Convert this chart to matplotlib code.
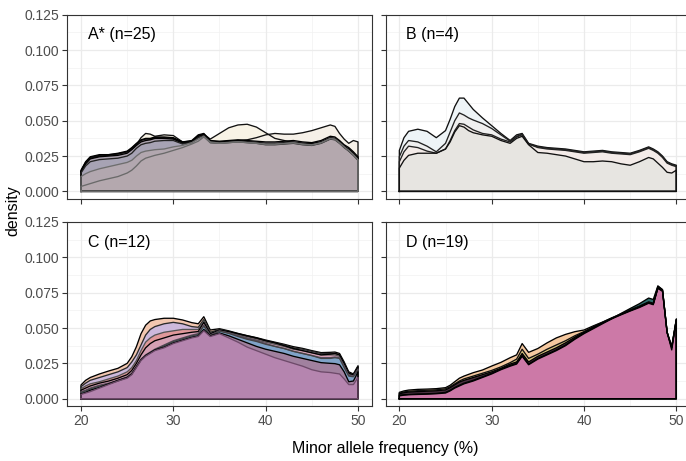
import numpy as np
import matplotlib
matplotlib.use("Agg")
import matplotlib.pyplot as plt

plt.rcParams['font.family'] = ['Liberation Sans', 'DejaVu Sans']

# ---------------- data (density) ----------------
X = [20, 20.5, 21, 22, 23, 24, 25, 25.5, 26, 26.5, 27, 27.5, 28, 29, 30, 31, 32, 32.7,
     33.3, 34, 35, 36, 37, 38, 39, 40, 41, 42, 43, 44, 45, 46, 47, 47.5, 48, 48.5, 49, 49.5, 50]

# Panel A
a_out1 = [0.014, 0.020, 0.0235, 0.025, 0.0255, 0.0265, 0.028, 0.030, 0.033, 0.038, 0.041, 0.0405, 0.039, 0.040, 0.0395, 0.035, 0.0355, 0.039,
          0.0405, 0.037, 0.041, 0.045, 0.047, 0.0475, 0.0455, 0.0415, 0.0375, 0.036, 0.0345, 0.034, 0.034, 0.035, 0.0375, 0.037, 0.035, 0.032, 0.029, 0.026, 0.023]
a_out2 = [0.0145, 0.0205, 0.024, 0.0255, 0.026, 0.0265, 0.028, 0.0305, 0.0335, 0.036, 0.037, 0.037, 0.038, 0.038, 0.0375, 0.0345, 0.0355, 0.0395,
          0.0405, 0.0355, 0.035, 0.0355, 0.036, 0.0365, 0.038, 0.040, 0.041, 0.0405, 0.0405, 0.0415, 0.043, 0.045, 0.047, 0.046, 0.041, 0.037, 0.034, 0.036, 0.035]
a_main1 = [0.015, 0.021, 0.0245, 0.026, 0.026, 0.027, 0.0285, 0.031, 0.034, 0.0365, 0.0375, 0.0375, 0.0385, 0.0385, 0.038, 0.035, 0.036, 0.040,
           0.041, 0.036, 0.0355, 0.036, 0.0365, 0.036, 0.0355, 0.035, 0.035, 0.0355, 0.036, 0.035, 0.0345, 0.036, 0.039, 0.0385, 0.036, 0.033, 0.031, 0.028, 0.0245]
a_main2 = [0.014, 0.0195, 0.023, 0.0245, 0.025, 0.0255, 0.027, 0.0295, 0.0325, 0.035, 0.036, 0.0365, 0.0375, 0.0375, 0.037, 0.034, 0.035, 0.039,
           0.040, 0.035, 0.0348, 0.0352, 0.0357, 0.0352, 0.0347, 0.034, 0.034, 0.0345, 0.035, 0.034, 0.0335, 0.035, 0.038, 0.0375, 0.035, 0.032, 0.030, 0.027, 0.0235]
a_main3 = [0.013, 0.018, 0.021, 0.0225, 0.023, 0.0235, 0.025, 0.027, 0.0305, 0.033, 0.034, 0.0345, 0.0355, 0.036, 0.036, 0.0335, 0.0345, 0.038,
           0.0395, 0.0345, 0.034, 0.0345, 0.035, 0.0345, 0.034, 0.033, 0.033, 0.0335, 0.034, 0.033, 0.0325, 0.034, 0.037, 0.0365, 0.034, 0.031, 0.0285, 0.0255, 0.022]
a_low2 = [0.0105, 0.0125, 0.014, 0.016, 0.0175, 0.019, 0.0205, 0.022, 0.025, 0.0275, 0.0285, 0.029, 0.0295, 0.030, 0.0315, 0.0325, 0.0345, 0.037,
          0.039, 0.035, 0.0342, 0.0347, 0.0352, 0.0347, 0.0342, 0.0335, 0.0335, 0.034, 0.0345, 0.0335, 0.033, 0.0345, 0.0375, 0.037, 0.0345, 0.0315, 0.029, 0.026, 0.0225]
a_low1 = [0.0035, 0.0045, 0.0055, 0.0075, 0.009, 0.0105, 0.013, 0.015, 0.018, 0.0215, 0.0235, 0.0245, 0.0255, 0.027, 0.029, 0.031, 0.0335, 0.0355,
          0.0385, 0.0345, 0.034, 0.0345, 0.035, 0.0345, 0.034, 0.0333, 0.0333, 0.0338, 0.0343, 0.0333, 0.0328, 0.0343, 0.0373, 0.0368, 0.0343, 0.0313, 0.0288, 0.0258, 0.0222]

# Panel B
b1 = [0.029, 0.038, 0.0425, 0.044, 0.0425, 0.038, 0.043, 0.051, 0.060, 0.066, 0.066, 0.062, 0.058, 0.052, 0.0465, 0.041, 0.036, 0.040,
      0.041, 0.034, 0.032, 0.031, 0.0305, 0.030, 0.029, 0.028, 0.0285, 0.029, 0.028, 0.0275, 0.027, 0.029, 0.0315, 0.030, 0.028, 0.025, 0.021, 0.0195, 0.0185]
b2 = [0.0245, 0.032, 0.036, 0.035, 0.032, 0.028, 0.034, 0.042, 0.050, 0.0555, 0.054, 0.052, 0.0505, 0.048, 0.0445, 0.040, 0.0355, 0.039,
      0.0405, 0.0335, 0.0315, 0.0305, 0.030, 0.0295, 0.0285, 0.0275, 0.028, 0.0285, 0.0275, 0.027, 0.0265, 0.0285, 0.031, 0.0295, 0.0275, 0.0245, 0.0205, 0.019, 0.018]
b3 = [0.021, 0.028, 0.032, 0.031, 0.0285, 0.027, 0.030, 0.036, 0.043, 0.048, 0.0475, 0.0455, 0.0435, 0.041, 0.040, 0.037, 0.035, 0.0385,
      0.040, 0.0335, 0.031, 0.030, 0.0295, 0.029, 0.028, 0.027, 0.0275, 0.028, 0.027, 0.0265, 0.026, 0.028, 0.0305, 0.029, 0.027, 0.024, 0.020, 0.0185, 0.0175]
b4 = [0.0165, 0.022, 0.0255, 0.027, 0.027, 0.027, 0.030, 0.035, 0.042, 0.0465, 0.0455, 0.043, 0.0415, 0.040, 0.039, 0.036, 0.034, 0.0375,
      0.039, 0.033, 0.0275, 0.027, 0.026, 0.025, 0.023, 0.021, 0.021, 0.0215, 0.021, 0.0195, 0.0185, 0.021, 0.024, 0.023, 0.020, 0.017, 0.0135, 0.013, 0.015]

# Panel C
c1 = [0.0097, 0.013, 0.015, 0.0175, 0.0196, 0.0215, 0.025, 0.0297, 0.0368, 0.046, 0.052, 0.055, 0.056, 0.0569, 0.0569, 0.0557, 0.0538, 0.053,
      0.058, 0.0486, 0.0495, 0.048, 0.0462, 0.0446, 0.0432, 0.0415, 0.040, 0.0385, 0.0368, 0.0356, 0.034, 0.0326, 0.0328, 0.033, 0.032, 0.026, 0.019, 0.0175, 0.0233]
c2 = [0.0085, 0.011, 0.013, 0.015, 0.017, 0.019, 0.022, 0.026, 0.031, 0.038, 0.045, 0.049, 0.051, 0.053, 0.054, 0.053, 0.051, 0.0505,
      0.056, 0.047, 0.049, 0.0475, 0.0455, 0.044, 0.0425, 0.041, 0.0395, 0.038, 0.036, 0.035, 0.0335, 0.032, 0.032, 0.0322, 0.031, 0.025, 0.018, 0.017, 0.0228]
c3 = [0.007, 0.009, 0.0105, 0.012, 0.014, 0.016, 0.019, 0.022, 0.027, 0.034, 0.040, 0.043, 0.045, 0.047, 0.048, 0.049, 0.049, 0.049,
      0.055, 0.046, 0.048, 0.047, 0.045, 0.043, 0.0415, 0.040, 0.0385, 0.037, 0.035, 0.034, 0.0325, 0.031, 0.031, 0.031, 0.030, 0.024, 0.0175, 0.0165, 0.022]
c4 = [0.006, 0.0075, 0.009, 0.011, 0.0125, 0.0145, 0.017, 0.020, 0.025, 0.031, 0.036, 0.039, 0.041, 0.043, 0.045, 0.046, 0.047, 0.0475,
      0.054, 0.046, 0.0485, 0.0475, 0.046, 0.0445, 0.043, 0.041, 0.0395, 0.0375, 0.0355, 0.034, 0.0325, 0.031, 0.0315, 0.032, 0.031, 0.025, 0.018, 0.017, 0.0225]
c5 = [0.005, 0.006, 0.0075, 0.0095, 0.011, 0.013, 0.0155, 0.018, 0.023, 0.028, 0.031, 0.033, 0.035, 0.038, 0.041, 0.043, 0.045, 0.046,
      0.052, 0.045, 0.048, 0.0465, 0.0445, 0.0425, 0.041, 0.039, 0.037, 0.0355, 0.0335, 0.032, 0.0305, 0.029, 0.029, 0.0295, 0.029, 0.023, 0.0165, 0.016, 0.021]
c6 = [0.0045, 0.0055, 0.007, 0.009, 0.0105, 0.0125, 0.015, 0.0175, 0.0225, 0.0275, 0.0305, 0.0325, 0.0345, 0.0375, 0.0405, 0.0425, 0.0445, 0.0455,
      0.0515, 0.0445, 0.0478, 0.0462, 0.044, 0.042, 0.0405, 0.0385, 0.037, 0.0355, 0.0335, 0.032, 0.0305, 0.0285, 0.0285, 0.029, 0.0285, 0.022, 0.016, 0.0155, 0.0205]
c7 = [0.0035, 0.0045, 0.006, 0.008, 0.0105, 0.013, 0.015, 0.0175, 0.0225, 0.0275, 0.0305, 0.0325, 0.0345, 0.0365, 0.0395, 0.0415, 0.0435, 0.0445,
      0.049, 0.0445, 0.0465, 0.0445, 0.042, 0.0395, 0.037, 0.035, 0.0335, 0.032, 0.030, 0.0285, 0.027, 0.0255, 0.025, 0.0248, 0.024, 0.019, 0.012, 0.0125, 0.019]
c8 = [0.003, 0.004, 0.005, 0.0075, 0.010, 0.0125, 0.0145, 0.017, 0.022, 0.027, 0.030, 0.032, 0.034, 0.036, 0.039, 0.041, 0.043, 0.044,
      0.048, 0.044, 0.046, 0.043, 0.040, 0.0365, 0.034, 0.0315, 0.029, 0.027, 0.025, 0.023, 0.0205, 0.019, 0.0185, 0.018, 0.0175, 0.014, 0.010, 0.010, 0.015]

# Panel D
d1 = [0.0045, 0.0055, 0.0061, 0.0066, 0.0068, 0.0071, 0.0078, 0.0095, 0.012, 0.0145, 0.016, 0.0172, 0.0184, 0.0203, 0.0231, 0.0257, 0.029, 0.031,
      0.039, 0.0328, 0.0355, 0.0395, 0.043, 0.0455, 0.0474, 0.0486, 0.0515, 0.0542, 0.0572, 0.060, 0.0628, 0.0655, 0.0685, 0.0675, 0.0795, 0.077, 0.047, 0.0365, 0.0565]
d2 = [0.002, 0.0025, 0.0028, 0.003, 0.0032, 0.0035, 0.004, 0.0055, 0.0075, 0.009, 0.0105, 0.0115, 0.0125, 0.015, 0.0175, 0.0205, 0.023, 0.0245,
      0.030, 0.024, 0.028, 0.031, 0.034, 0.0375, 0.042, 0.046, 0.0495, 0.053, 0.0565, 0.0603, 0.0638, 0.0672, 0.0712, 0.0702, 0.0798, 0.0772, 0.0472, 0.0345, 0.056]
d3 = [0.004, 0.0048, 0.0053, 0.0057, 0.006, 0.0063, 0.007, 0.0085, 0.0105, 0.0125, 0.014, 0.015, 0.016, 0.018, 0.020, 0.0225, 0.0255, 0.028,
      0.035, 0.0285, 0.0315, 0.035, 0.038, 0.041, 0.0445, 0.0475, 0.051, 0.054, 0.057, 0.0598, 0.0625, 0.065, 0.068, 0.067, 0.0785, 0.0765, 0.047, 0.037, 0.056]
d4 = [0.0035, 0.0042, 0.0047, 0.005, 0.0053, 0.0056, 0.0062, 0.0078, 0.0098, 0.0118, 0.013, 0.014, 0.015, 0.017, 0.019, 0.0215, 0.0245, 0.026,
      0.032, 0.026, 0.030, 0.033, 0.036, 0.0395, 0.0435, 0.047, 0.0505, 0.0538, 0.0568, 0.0596, 0.0623, 0.065, 0.068, 0.067, 0.0785, 0.0765, 0.047, 0.0365, 0.056]
d5 = [0.0025, 0.0028, 0.003, 0.0033, 0.0035, 0.0038, 0.0045, 0.006, 0.008, 0.0095, 0.011, 0.012, 0.013, 0.0155, 0.018, 0.021, 0.0235, 0.025,
      0.0305, 0.0245, 0.0285, 0.0315, 0.0345, 0.038, 0.0425, 0.0465, 0.050, 0.0535, 0.0565, 0.0593, 0.062, 0.0645, 0.0675, 0.0665, 0.078, 0.076, 0.0465, 0.036, 0.0555]

panel_labels = ["A* (n=25)", "B (n=4)", "C (n=12)", "D (n=19)"]
x_ticks = [20, 30, 40, 50]
y_ticks = [0.000, 0.025, 0.050, 0.075, 0.100, 0.125]
x_title = "Minor allele frequency (%)"
y_title = "density"

# curves per panel: (values, fill colour, line colour), drawn in this order
panel_curves = [
    [(a_out1, '#F8F3E6', '#111111'), (a_out2, '#F5F0E8', '#111111'),
     (a_main1, '#B1A7B0', '#000000'), (a_main2, '#ADA4B0', '#000000'),
     (a_main3, '#A7A3B4', '#222222'), (a_low2, '#B2A7AF', '#6E6E6E'),
     (a_low1, '#B4A8AE', '#6A6A6A')],
    [(b1, '#EEF4F7', '#111111'), (b2, '#EFEFEF', '#222222'),
     (b3, '#F3EBE8', '#222222'), (b4, '#E7E5E1', '#111111')],
    [(c1, '#F2C7B0', '#000000'), (c2, '#CDB9DC', '#2a2a2a'),
     (c3, '#E0989A', '#555555'), (c4, '#D5A0B4', '#000000'),
     (c5, '#9D8BA8', '#5a4a60'), (c6, '#7FA3C8', '#444444'),
     (c7, '#A1819F', '#000000'), (c8, '#B585AF', '#6E4A6A')],
    [(d1, '#F5C9A0', '#000000'), (d2, '#2E6E6B', '#000000'),
     (d3, '#D9C47F', '#111111'), (d4, '#4A3040', '#000000'),
     (d5, '#CC79A7', '#000000')],
]

# ---------------- figure ----------------
W, H = 686, 461
fig = plt.figure(figsize=(W / 100, H / 100), dpi=100)

pw = 304.7 / W
ph = 184.4 / H
lefts = [67.15 / W, 385.5 / W]
bottoms = [1 - 199.1 / H, 1 - 406.4 / H]
pos = [(lefts[0], bottoms[0]), (lefts[1], bottoms[0]), (lefts[0], bottoms[1]), (lefts[1], bottoms[1])]

for i, (l, b) in enumerate(pos):
    ax = fig.add_axes([l, b, pw, ph])
    ax.set_xlim(18.5, 51.5)
    ax.set_ylim(-0.00545, 0.125)
    # grid
    for xv in [25, 35, 45]:
        ax.axvline(xv, color='#F2F2F2', lw=0.5, zorder=0)
    for yv in [0.0125, 0.0375, 0.0625, 0.0875, 0.1125]:
        ax.axhline(yv, color='#F2F2F2', lw=0.5, zorder=0)
    for xv in x_ticks:
        ax.axvline(xv, color='#EBEBEB', lw=0.9, zorder=0)
    for yv in y_ticks:
        ax.axhline(yv, color='#EBEBEB', lw=0.9, zorder=0)

    xs = np.array([X[0]] + X + [X[-1], X[0]])
    for vals, fc, lc in panel_curves[i]:
        ys = np.array([0.0] + list(vals) + [0.0, 0.0])
        ax.fill(xs, ys, facecolor=fc, edgecolor='none', zorder=2)
    for vals, fc, lc in panel_curves[i]:
        ys = np.array([0.0] + list(vals) + [0.0, 0.0])
        ax.plot(xs, ys, color=lc, lw=0.95, zorder=3, solid_joinstyle='round')

    ax.text(20.75, 0.1108, panel_labels[i], fontsize=11.5, ha='left', va='center', color='black', zorder=5)

    ax.set_xticks(x_ticks)
    ax.set_yticks(y_ticks)
    ax.tick_params(axis='both', length=3.6, width=0.8, color='#333333', labelcolor='#4D4D4D', labelsize=10, pad=2)
    if i in (2, 3):
        ax.set_xticklabels([str(v) for v in x_ticks])
    else:
        ax.set_xticklabels([])
    if i in (0, 2):
        ax.set_yticklabels([f"{v:.3f}" for v in y_ticks])
    else:
        ax.set_yticklabels([])
    for s in ax.spines.values():
        s.set_color('#333333')
        s.set_linewidth(0.8)
        s.set_zorder(6)

fig.text(385 / W, 1 - 448 / H, x_title, ha='center', va='center', fontsize=11.5, color='black')
fig.text(13 / W, 1 - 210.7 / H, y_title, ha='center', va='center', rotation=90, fontsize=11.5, color='black')

fig.savefig("out.png", dpi=100, facecolor='white')
